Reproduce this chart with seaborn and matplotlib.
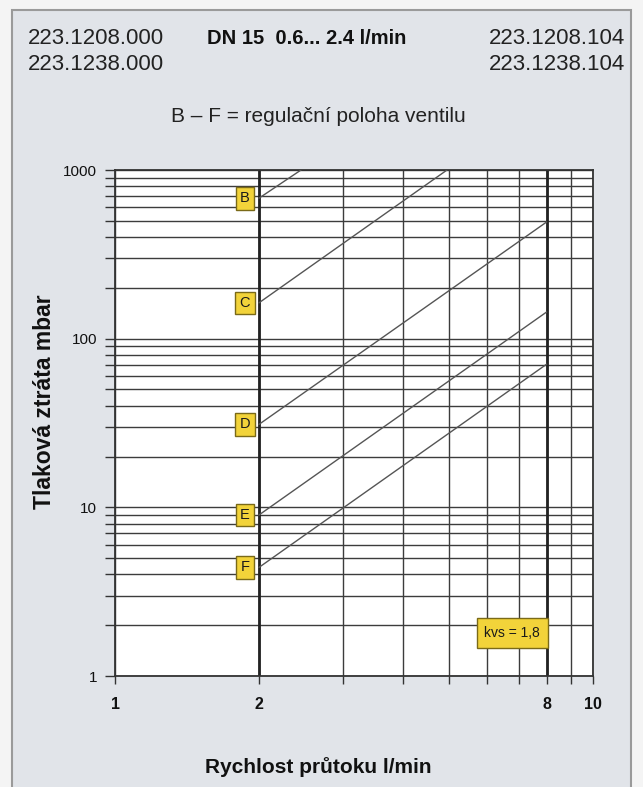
import matplotlib
matplotlib.use('Agg')
import matplotlib.pyplot as plt
import matplotlib.patches as patches
import matplotlib.ticker as mticker
import seaborn as sns
import pandas as pd

# regulační polohy ventilu, počáteční a koncové body čar (l/min, mbar)
positions = ['B', 'C', 'D', 'E', 'F']
flow_start = [2, 2, 2, 2, 2]
flow_end = [2.45, 4.95, 8, 8, 8]
dp_start = [680, 163, 31, 9.0, 4.4]
dp_end = [1000, 1000, 492, 144, 70.6]

x_ticks = [1, 2, 8, 10]
y_ticks = [1, 10, 100, 1000]
kvs_text = 'kvs = 1,8'

rows = []
for p, xs, xe, ys, ye in zip(positions, flow_start, flow_end, dp_start, dp_end):
    rows.append({'pos': p, 'flow': xs, 'dp': ys})
    rows.append({'pos': p, 'flow': xe, 'dp': ye})
df = pd.DataFrame(rows)

sns.set_style('white')
plt.rcParams['font.family'] = ['Liberation Sans', 'DejaVu Sans']

W, H = 643, 787
fig = plt.figure(figsize=(W / 100, H / 100), dpi=100)
fig.patch.set_facecolor('#f4f4f4')
frame = patches.Rectangle((12 / W, -0.01), (631 - 12) / W, 1 - 10 / H + 0.01,
                          transform=fig.transFigure, facecolor='#e1e4e9',
                          edgecolor='#9a9a9a', lw=1.5, zorder=-5)
fig.patches.append(frame)

ax = fig.add_axes([115 / W, 1 - 676 / H, (593 - 115) / W, (676 - 170) / H])
ax.set_zorder(2)
ax.set_facecolor('white')
ax.set_xscale('log')
ax.set_yscale('log')

sns.lineplot(data=df, x='flow', y='dp', units='pos', estimator=None,
             color='#555555', lw=1.0, ax=ax, zorder=3)

ax.set_xlim(1, 10)
ax.set_ylim(1, 1000)
ax.xaxis.set_major_locator(mticker.FixedLocator(x_ticks))
ax.xaxis.set_major_formatter(mticker.FixedFormatter([str(t) for t in x_ticks]))
ax.yaxis.set_major_locator(mticker.FixedLocator(y_ticks))
ax.yaxis.set_major_formatter(mticker.FixedFormatter([str(t) for t in y_ticks]))
ax.xaxis.set_minor_locator(mticker.LogLocator(base=10, subs=range(2, 10)))
ax.yaxis.set_minor_locator(mticker.LogLocator(base=10, subs=range(2, 10)))
ax.xaxis.set_minor_formatter(mticker.NullFormatter())
ax.yaxis.set_minor_formatter(mticker.NullFormatter())

ax.grid(True, which='both', color='#3c3c3c', lw=1.0, zorder=1)
for xv in [2, 8]:
    ax.axvline(xv, color='#222222', lw=2.0, zorder=2)

for s in ax.spines.values():
    s.set_color('#333333')
    s.set_linewidth(1.3)

ax.tick_params(axis='y', which='both', direction='out', length=7, width=1,
               color='#333333', left=True, labelsize=11, labelcolor='#111111', pad=6)
ax.tick_params(axis='x', which='both', direction='out', length=6, width=1,
               color='#333333', bottom=True, labelsize=11.5, labelcolor='#111111', pad=9)
for lab in ax.get_xticklabels():
    lab.set_fontweight('bold')
ax.set_xlabel('')
ax.set_ylabel('')

box = dict(boxstyle='square,pad=0.3', fc='#f2d33a', ec='#7a6a18', lw=1)
for p, ys in zip(positions, dp_start):
    ax.text(1.87, ys, p, ha='center', va='center', fontsize=10.5,
            color='#1a1a1a', bbox=box, zorder=5)
ax.text(6.77, 1.8, kvs_text, ha='center', va='center', fontsize=10,
        color='#1a1a1a', bbox=dict(boxstyle='square,pad=0.55', fc='#f2d33a',
                                   ec='#7a6a18', lw=1), zorder=5)

def px(x, y):
    return x / W, 1 - y / H

fig.text(*px(28, 38), '223.1208.000', fontsize=16, ha='left', va='center', color='#222222')
fig.text(*px(28, 65), '223.1238.000', fontsize=16, ha='left', va='center', color='#222222')
fig.text(*px(625, 38), '223.1208.104', fontsize=16, ha='right', va='center', color='#222222')
fig.text(*px(625, 65), '223.1238.104', fontsize=16, ha='right', va='center', color='#222222')
fig.text(*px(307, 38), 'DN 15  0.6... 2.4 l/min', fontsize=14.5, fontweight='bold',
         ha='center', va='center', color='#111111')
fig.text(*px(318, 117), 'B – F = regulační poloha ventilu', fontsize=15,
         ha='center', va='center', color='#222222')
fig.text(*px(45, 402), 'Tlaková ztráta mbar', fontsize=16.5, fontweight='bold',
         rotation=90, ha='center', va='center', color='#111111')
fig.text(*px(318, 767), 'Rychlost průtoku l/min', fontsize=15, fontweight='bold',
         ha='center', va='center', color='#111111')

fig.savefig('out.png', dpi=100, facecolor=fig.get_facecolor())
